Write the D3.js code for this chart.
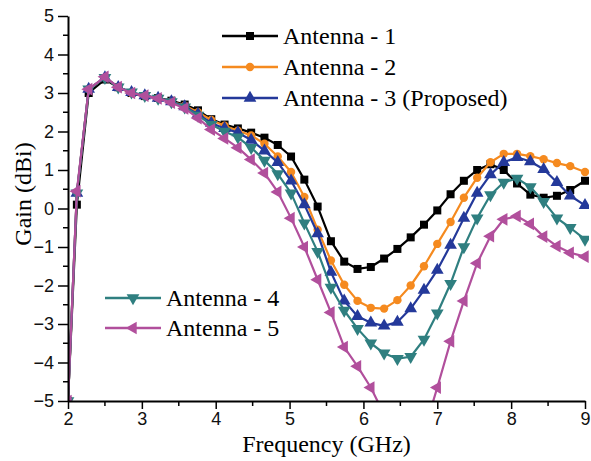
<!DOCTYPE html>
<html>
<head>
<meta charset="utf-8">
<script src="https://cdn.jsdelivr.net/npm/d3@7"></script>
<style>
  body { margin: 0; background: #fff; }
  svg { display: block; }
</style>
</head>
<body>
<svg id="chart" width="591" height="461"></svg>
<script>
// frequency points (GHz)
var freq = [2.0, 2.12, 2.28, 2.5, 2.68, 2.86, 3.04, 3.22, 3.4, 3.58, 3.76, 3.94, 4.12, 4.3, 4.48, 4.66, 4.84, 5.02, 5.2, 5.38,
            5.56, 5.74, 5.92, 6.1, 6.28, 6.46, 6.64, 6.82, 7.0, 7.18, 7.36, 7.54, 7.72, 7.9, 8.08, 8.26, 8.44, 8.62, 8.8, 9.0]

// gain (dBi)
var ant1 = [-5, 0.1, 3.0, 3.35, 3.15, 3.0, 2.92, 2.87, 2.8, 2.7, 2.55, 2.32, 2.18, 2.08, 1.97, 1.84, 1.65, 1.35, 0.75, 0.05,
            -0.85, -1.38, -1.57, -1.52, -1.3, -1.05, -0.75, -0.42, -0.05, 0.37, 0.72, 1.0, 1.15, 1.0, 0.65, 0.36, 0.28, 0.33, 0.48, 0.72]
var ant2 = [-5, 0.4, 3.1, 3.4, 3.15, 3.0, 2.92, 2.87, 2.78, 2.67, 2.5, 2.3, 2.15, 2.02, 1.9, 1.68, 1.35, 0.95, 0.3, -0.55,
            -1.35, -1.98, -2.4, -2.58, -2.6, -2.38, -2.0, -1.5, -0.92, -0.35, 0.28, 0.8, 1.2, 1.42, 1.42, 1.36, 1.28, 1.18, 1.1, 0.95]
var ant3 = [-5, 0.4, 3.1, 3.4, 3.15, 3.02, 2.93, 2.87, 2.78, 2.65, 2.45, 2.22, 2.08, 1.97, 1.78, 1.5, 1.2, 0.72, 0.1, -0.65,
            -1.65, -2.4, -2.8, -2.97, -3.05, -2.95, -2.6, -2.12, -1.6, -0.95, -0.25, 0.4, 0.88, 1.2, 1.33, 1.22, 1.02, 0.68, 0.33, 0.08]
var ant4 = [-5, 0.4, 3.1, 3.4, 3.15, 3.02, 2.93, 2.86, 2.77, 2.63, 2.42, 2.18, 2.0, 1.85, 1.58, 1.25, 0.9, 0.4, -0.38, -1.12,
            -2.05, -2.65, -3.12, -3.5, -3.76, -3.9, -3.85, -3.4, -2.72, -1.95, -1.0, -0.25, 0.35, 0.68, 0.78, 0.56, 0.18, -0.25, -0.5, -0.8]
var ant5 = [-5, 0.45, 3.1, 3.42, 3.15, 3.0, 2.93, 2.86, 2.75, 2.6, 2.35, 2.05, 1.82, 1.58, 1.27, 0.92, 0.43, -0.25, -1.0, -1.85,
            -2.7, -3.6, -4.1, -4.65, -5.35, -5.9, -6.1, -5.8, -4.65, -3.45, -2.4, -1.42, -0.72, -0.28, -0.2, -0.4, -0.73, -0.98, -1.15, -1.25]

var names = ["Antenna - 1", "Antenna - 2", "Antenna - 3 (Proposed)", "Antenna - 4", "Antenna - 5"]
var colors = ["#000000", "#f58a1f", "#24399a", "#2f7f80", "#b14f9c"]
var xTicks = [2, 3, 4, 5, 6, 7, 8, 9]
var yTicks = [-5, -4, -3, -2, -1, 0, 1, 2, 3, 4, 5]

var series = [ant1, ant2, ant3, ant4, ant5].map((v, i) => ({name: names[i], color: colors[i], values: v, k: i}))

var width = 591, height = 461
var margin = {top: 16, right: 6, bottom: 60, left: 68}
var serif = "'Liberation Serif', 'Times New Roman', serif"
var sans = "'Liberation Sans', Arial, sans-serif"

var x = d3.scaleLinear().domain([2, 9]).range([margin.left, width - margin.right])
var y = d3.scaleLinear().domain([-5, 5]).range([height - margin.bottom, margin.top])

var svg = d3.select("#chart")

// marker shapes: square, circle, up / down / left triangle
function marker(sel, k, c) {
  if (k == 0) {
    sel.append("rect").attr("x", -4).attr("y", -4).attr("width", 8).attr("height", 8).attr("fill", c)
  } else if (k == 1) {
    sel.append("circle").attr("r", 4.2).attr("fill", c)
  } else {
    var rot = k == 2 ? 0 : (k == 3 ? 180 : -90)
    sel.append("path").attr("d", d3.symbol().type(d3.symbolTriangle).size(70)()).attr("fill", c)
      .attr("transform", "rotate(" + rot + ")")
  }
}

svg.append("clipPath").attr("id", "plot")
  .append("rect")
  .attr("x", margin.left).attr("y", margin.top - 6)
  .attr("width", width - margin.right - margin.left + 4)
  .attr("height", height - margin.bottom - margin.top + 6)

var line = d3.line().x((d, i) => x(freq[i])).y(d => y(d))

var plot = svg.append("g").attr("clip-path", "url(#plot)")

series.forEach(s => {
  var g = plot.append("g")
  g.append("path")
    .attr("fill", "none")
    .attr("stroke", s.color)
    .attr("stroke-width", 2.2)
    .attr("stroke-linejoin", "round")
    .attr("d", line(s.values))
  g.selectAll("g.m")
    .data(s.values)
    .join("g")
    .attr("class", "m")
    .attr("transform", (d, i) => `translate(${x(freq[i])},${y(d)})`)
    .each(function() { marker(d3.select(this), s.k, s.color) })
})

// axes
var xAxis = svg.append("g")
  .attr("transform", `translate(0,${height - margin.bottom})`)
  .call(d3.axisBottom(x).tickValues(xTicks).tickSize(8).tickSizeOuter(0).tickPadding(3).tickFormat(d3.format("d")))
xAxis.selectAll(".tick text").attr("font-family", sans).attr("font-size", 18).attr("fill", "#111")
xAxis.append("g").selectAll("line")
  .data(d3.range(2.5, 9, 1))
  .join("line")
  .attr("x1", d => x(d)).attr("x2", d => x(d))
  .attr("y1", 0).attr("y2", 5)
  .attr("stroke", "#000").attr("stroke-width", 1.5)

var yAxis = svg.append("g")
  .attr("transform", `translate(${margin.left},0)`)
  .call(d3.axisLeft(y).tickValues(yTicks).tickSize(10).tickSizeOuter(0).tickPadding(4).tickFormat(d3.format("d")))
yAxis.selectAll(".tick text").attr("font-family", sans).attr("font-size", 18).attr("fill", "#111")
yAxis.append("g").selectAll("line")
  .data(d3.range(-4.5, 5, 1))
  .join("line")
  .attr("y1", d => y(d)).attr("y2", d => y(d))
  .attr("x1", 0).attr("x2", -5)
  .attr("stroke", "#000").attr("stroke-width", 1.5)

svg.selectAll(".domain").attr("stroke-width", 2)
svg.selectAll(".tick line").attr("stroke-width", 1.5)

// titles
svg.append("text")
  .attr("x", (x(2) + x(9)) / 2).attr("y", 452)
  .attr("text-anchor", "middle")
  .attr("font-family", serif)
  .attr("font-size", 24)
  .text("Frequency (GHz)")

svg.append("text")
  .attr("transform", "translate(31,194) rotate(-90)")
  .attr("text-anchor", "middle")
  .attr("font-family", serif)
  .attr("font-size", 24)
  .text("Gain (dBi)")

// legends
var legendPos = [[222, 36], [222, 67], [222, 98], [105, 298], [105, 328]]
series.forEach(s => {
  var p = legendPos[s.k]
  var g = svg.append("g").attr("transform", `translate(${p[0]},${p[1]})`)
  g.append("line").attr("x1", 0).attr("x2", 56).attr("stroke", s.color).attr("stroke-width", 2.4)
  var m = g.append("g").attr("transform", "translate(28,0)")
  marker(m, s.k, s.color)
  g.append("text")
    .attr("x", 61).attr("y", 8)
    .attr("font-family", serif)
    .attr("font-size", 24)
    .attr("fill", "#000")
    .text(s.name)
})
</script>
</body>
</html>
